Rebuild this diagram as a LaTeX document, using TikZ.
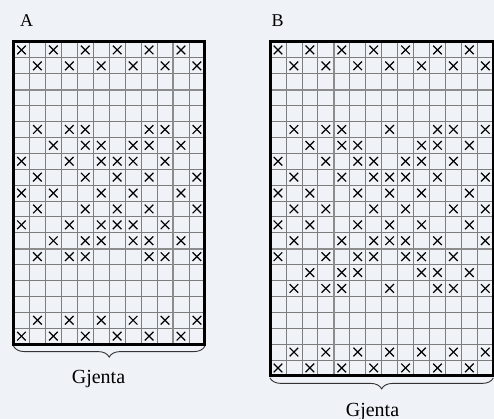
\documentclass[tikz,border=0pt]{standalone}
\usepackage{fontspec}
\setmainfont{Liberation Serif}
\usetikzlibrary{decorations.pathreplacing}
\definecolor{bg}{RGB}{239,242,246}
\definecolor{gridc}{RGB}{125,125,125}
\definecolor{guidec}{RGB}{140,140,140}
\def\cw{15.95}
\def\ch{15.9}
\begin{document}
\begin{tikzpicture}[x=1pt,y=-1pt,
  cellline/.style={draw=gridc, line width=0.8pt},
  guideline/.style={draw=guidec, line width=1.8pt},
  border/.style={draw=black, line width=3pt},
  xmark/.style={draw=black, line width=1.2pt},
  bracestyle/.style={draw=black!80, line width=0.9pt, decorate,
    decoration={brace, mirror, amplitude=11pt}},
  lbl/.style={inner sep=0pt, anchor=base west, font=\fontsize{18}{20}\selectfont},
  gj/.style={inner sep=0pt, anchor=base, font=\fontsize{20}{22}\selectfont}]
\fill[bg] (0,0) rectangle (494,419);
\useasboundingbox (0,0) rectangle (494,419);

% ---------- Grid A ----------
\node[lbl] (labA) at (20,27) {A};
\begin{scope}[shift={(13.5,42)}]
  \foreach \i in {0,...,12} \draw[cellline] (\i*\cw,0) -- (\i*\cw,19*\ch);
  \foreach \j in {0,...,19} \draw[cellline] (0,\j*\ch) -- (12*\cw,\j*\ch);
  \draw[guideline] (10*\cw,0) -- (10*\cw,19*\ch);
  \draw[guideline] (0,3*\ch) -- (12*\cw,3*\ch);
  \draw[guideline] (0,13*\ch) -- (12*\cw,13*\ch);
  \foreach \r/\cs in {0/{0,2,4,6,8,10}, 1/{1,3,5,7,9,11},
      5/{1,3,4,8,9,11}, 6/{2,4,5,7,8,10}, 7/{0,3,5,6,7,9},
      8/{1,4,6,8,11}, 9/{0,2,5,7,10}, 10/{1,4,6,8,11},
      11/{0,3,5,6,7,9}, 12/{2,4,5,7,8,10}, 13/{1,3,4,8,9,11},
      17/{1,3,5,7,9,11}, 18/{0,2,4,6,8,10}}
    \foreach \c in \cs {
      \draw[xmark] ({(\c+0.5)*\cw-4.3},{(\r+0.5)*\ch-4.3}) -- ++(8.6,8.6);
      \draw[xmark] ({(\c+0.5)*\cw+4.3},{(\r+0.5)*\ch-4.3}) -- ++(-8.6,8.6);
    }
  \draw[border] (0,0) rectangle (12*\cw,19*\ch);
  \coordinate (Abl) at (0,19*\ch+2);
  \coordinate (Abr) at (12*\cw,19*\ch+2);
\end{scope}
\draw[bracestyle] (Abl) -- (Abr);
\node[gj] (gjA) at (98.5,383) {Gjenta};

% ---------- Grid B ----------
\node[lbl] (labB) at (271.5,27) {B};
\begin{scope}[shift={(270,42)}]
  \foreach \i in {0,...,14} \draw[cellline] (\i*\cw,0) -- (\i*\cw,21*\ch);
  \foreach \j in {0,...,21} \draw[cellline] (0,\j*\ch) -- (14*\cw,\j*\ch);
  \draw[guideline] (4*\cw,0) -- (4*\cw,21*\ch);
  \draw[guideline] (0,3*\ch) -- (14*\cw,3*\ch);
  \draw[guideline] (0,13*\ch) -- (14*\cw,13*\ch);
  \foreach \r/\cs in {0/{0,2,4,6,8,10,12}, 1/{1,3,5,7,9,11,13},
      5/{1,3,4,7,10,11,13}, 6/{2,4,5,9,10,12}, 7/{0,3,5,6,8,9,11},
      8/{1,4,6,7,8,10,13}, 9/{0,2,5,7,9,12}, 10/{1,3,6,8,11,13},
      11/{0,2,5,7,9,12}, 12/{1,4,6,7,8,10,13}, 13/{0,3,5,6,8,9,11},
      14/{2,4,5,9,10,12}, 15/{1,3,4,7,10,11,13},
      19/{1,3,5,7,9,11,13}, 20/{0,2,4,6,8,10,12}}
    \foreach \c in \cs {
      \draw[xmark] ({(\c+0.5)*\cw-4.3},{(\r+0.5)*\ch-4.3}) -- ++(8.6,8.6);
      \draw[xmark] ({(\c+0.5)*\cw+4.3},{(\r+0.5)*\ch-4.3}) -- ++(-8.6,8.6);
    }
  \draw[border] (0,0) rectangle (14*\cw,21*\ch);
  \coordinate (Bbl) at (0,21*\ch+2);
  \coordinate (Bbr) at (14*\cw,21*\ch+2);
\end{scope}
\draw[bracestyle] (Bbl) -- (Bbr);
\node[gj] (gjB) at (372.5,416) {Gjenta};
\end{tikzpicture}
\end{document}
